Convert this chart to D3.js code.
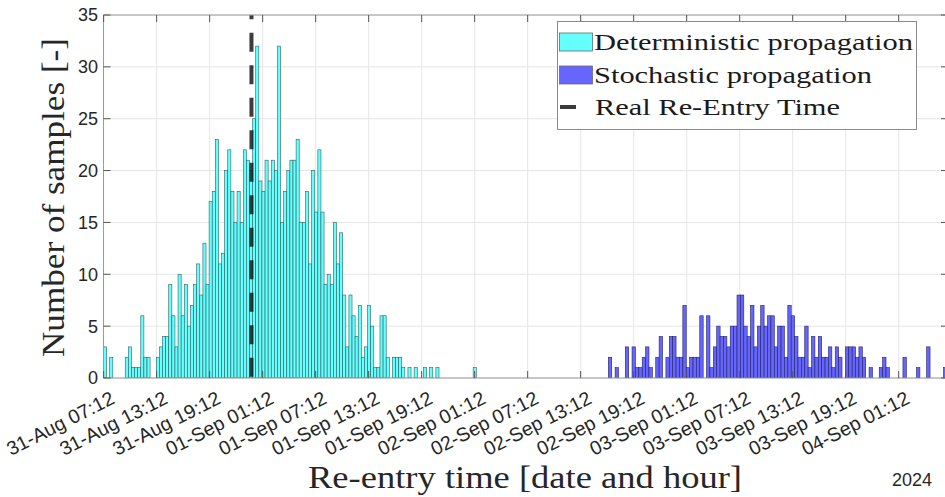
<!DOCTYPE html>
<html><head><meta charset="utf-8">
<script src="https://cdn.jsdelivr.net/npm/d3@7"></script>
<style>body{margin:0;background:#fff}svg{display:block}</style>
</head><body><svg id="c" width="945" height="497"></svg>
<script>
// ---------------- data ----------------
const detStart = "2024-08-31T07:11";
const detBinMinutes = 21.1;
const detCounts = [3,0,2,0,0,0,0,2,3,1,1,1,6,2,2,0,0,2,3,4,4,9,6,3,10,6,9,5,7,9,
  11,8,13,9,17,18,23,11,12,20,22,18,15,18,15,22,21,20,25,32,19,18,21,19,21,20,32,15,18,20,
  21,21,23,15,15,18,11,20,16,22,16,9,10,9,15,11,14,8,3,8,6,4,7,2,3,7,5,1,1,6,
  6,2,0,2,2,2,1,0,1,0,1,0,0,1,0,1,0,1,0,0,0,0,0,0,0,0,0,0,0,1];
const stoStart = "2024-09-02T16:20";
const stoBinMinutes = 23.0;
const stoCounts = [2,0,1,0,0,3,0,3,1,1,2,3,1,0,2,4,0,2,4,4,2,2,7,1,2,2,2,6,0,6,
  1,3,5,4,4,3,5,5,8,8,5,4,7,3,5,7,5,6,6,3,5,5,2,7,6,4,2,2,5,1,
  4,2,4,2,2,3,1,3,2,0,3,3,3,2,3,2,0,1,0,0,1,2,1,0,0,0,0,2,0,0,
  0,1,0,0,3,0,0,0,0,1];
const realReentry = "2024-08-31T23:56";
const xDomain = ["2024-08-31T07:11", "2024-09-04T06:47"];
const xTicks = ["2024-08-31T07:12","2024-08-31T13:12","2024-08-31T19:12","2024-09-01T01:12",
  "2024-09-01T07:12","2024-09-01T13:12","2024-09-01T19:12","2024-09-02T01:12","2024-09-02T07:12",
  "2024-09-02T13:12","2024-09-02T19:12","2024-09-03T01:12","2024-09-03T07:12","2024-09-03T13:12",
  "2024-09-03T19:12","2024-09-04T01:12"];
const yTicks = [0,5,10,15,20,25,30,35];
const seriesNames = ["Deterministic propagation","Stochastic propagation","Real Re-Entry Time"];
const yearLabel = "2024";
const xTitle = "Re-entry time [date and hour]";
const yTitle = "Number of samples [-]";

// ---------------- drawing ----------------
const parse = d3.utcParse("%Y-%m-%dT%H:%M");
const fmt = d3.utcFormat("%d-%b %H:%M");
const svg = d3.select("#c");
const L = 103.5, R = 948, T = 15, B = 378;
const x = d3.scaleUtc().domain(xDomain.map(parse)).range([L, R]);
const y = d3.scaleLinear().domain([0, 35]).range([B, T]);
const SANS = "'Liberation Sans', Arial, sans-serif";
const SERIF = "'Liberation Serif', 'DejaVu Serif', serif";

svg.append("defs").append("clipPath").attr("id","clip")
  .append("rect").attr("x",L).attr("y",T).attr("width",R-L).attr("height",B-T);

// grid
const grid = svg.append("g").attr("stroke","#e6e6e6").attr("stroke-width",1);
xTicks.forEach(t => { const xx = x(parse(t)); grid.append("line").attr("x1",xx).attr("x2",xx).attr("y1",T).attr("y2",B); });
yTicks.forEach(v => grid.append("line").attr("x1",L).attr("x2",R).attr("y1",y(v)).attr("y2",y(v)));

function bins(start, minutes, counts) {
  const s = parse(start).getTime(), w = minutes * 60000;
  return counts.map((c, i) => ({x0: new Date(s + i*w), x1: new Date(s + (i+1)*w), c}));
}
const plot = svg.append("g").attr("clip-path","url(#clip)");
function drawBars(data, fill, stroke) {
  plot.append("g").selectAll("rect").data(data.filter(d => d.c > 0)).join("rect")
    .attr("x", d => x(d.x0)).attr("width", d => x(d.x1) - x(d.x0))
    .attr("y", d => y(d.c)).attr("height", d => y(0) - y(d.c))
    .attr("fill", fill).attr("stroke", stroke).attr("stroke-width", 0.6);
}
drawBars(bins(detStart, detBinMinutes, detCounts), "#66ffff", "#2f5f5f");
drawBars(bins(stoStart, stoBinMinutes, stoCounts), "#6666ff", "#222266");

// real re-entry line
const rx = x(parse(realReentry));
plot.append("line").attr("x1",rx).attr("x2",rx).attr("y1",B).attr("y2",T)
  .attr("stroke","#1a1a1a").attr("stroke-opacity",0.85).attr("stroke-width",4)
  .attr("stroke-dasharray","19,13.5").attr("stroke-dashoffset",31.2);

// axes box
const ax = svg.append("g");
[[L,R,B,B],[L,R,T,T],[L,L,T,B],[R,R,T,B]].forEach(s => ax.append("line")
  .attr("x1",s[0]).attr("x2",s[1]).attr("y1",s[2]).attr("y2",s[3]).attr("stroke","#9a9a9a"));
// tick marks
xTicks.forEach(t => {
  const xx = x(parse(t));
  ax.append("line").attr("x1",xx).attr("x2",xx).attr("y1",B).attr("y2",B-7).attr("stroke","#555");
  ax.append("line").attr("x1",xx).attr("x2",xx).attr("y1",T).attr("y2",T+7).attr("stroke","#555");
});
yTicks.forEach(v => {
  ax.append("line").attr("x1",L).attr("x2",L+7).attr("y1",y(v)).attr("y2",y(v)).attr("stroke","#555");
  ax.append("line").attr("x1",R).attr("x2",R-7).attr("y1",y(v)).attr("y2",y(v)).attr("stroke","#555");
});
// tick labels
yTicks.forEach(v => ax.append("text").attr("x",L-5.5).attr("y",y(v)).attr("dy","0.36em")
  .attr("text-anchor","end").attr("font-family",SANS).attr("font-size",18).attr("fill","#262626").text(v));
xTicks.forEach(t => {
  const xx = x(parse(t));
  ax.append("text").attr("transform",`translate(${xx+6},${B+12}) rotate(-27)`)
    .attr("dy","0.72em").attr("text-anchor","end").attr("font-family",SANS).attr("font-size",19.5)
    .attr("textLength",118).attr("lengthAdjust","spacingAndGlyphs")
    .attr("fill","#262626").text(fmt(parse(t)));
});
svg.append("text").attr("x",932).attr("y",486).attr("text-anchor","end").attr("font-family",SANS)
  .attr("font-size",18).attr("fill","#262626").text(yearLabel);

// axis titles
svg.append("text").attr("x",308).attr("y",488).attr("font-family",SERIF).attr("font-size",31)
  .attr("fill","#262626").attr("textLength",434).attr("lengthAdjust","spacingAndGlyphs").text(xTitle);
svg.append("text").attr("transform","translate(64,357) rotate(-90)").attr("font-family",SERIF).attr("font-size",31)
  .attr("fill","#262626").attr("textLength",319).attr("lengthAdjust","spacingAndGlyphs").text(yTitle);

// legend
const lg = svg.append("g");
lg.append("rect").attr("x",557.5).attr("y",21.5).attr("width",359).attr("height",108)
  .attr("fill","#fff").attr("stroke","#8a8a8a");
lg.append("rect").attr("x",559.5).attr("y",33).attr("width",33).attr("height",18).attr("fill","#66ffff").attr("stroke","#6a6a6a").attr("stroke-width",0.8);
lg.append("rect").attr("x",559.5).attr("y",66).attr("width",33).attr("height",18).attr("fill","#6666ff").attr("stroke","#6a6a6a").attr("stroke-width",0.8);
lg.append("line").attr("x1",560).attr("x2",576).attr("y1",107).attr("y2",107).attr("stroke","#3c3c3c").attr("stroke-width",4);
const lt = [[594, 50, 319], [594, 83, 278], [595, 115, 245]];
seriesNames.forEach((n, i) => lg.append("text").attr("x",lt[i][0]).attr("y",lt[i][1])
  .attr("font-family",SERIF).attr("font-size",24).attr("fill","#1a1a1a")
  .attr("textLength",lt[i][2]).attr("lengthAdjust","spacingAndGlyphs").text(n));
</script></body></html>
